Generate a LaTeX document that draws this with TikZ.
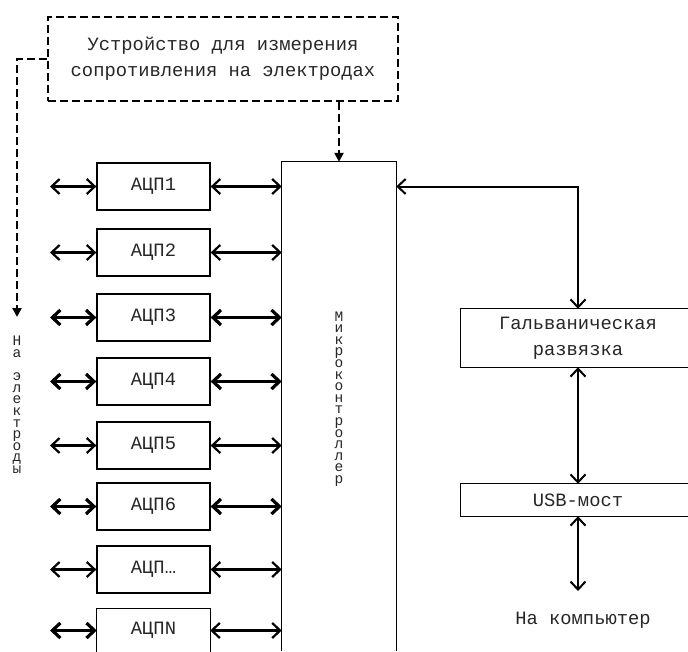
\documentclass[tikz,border=0pt]{standalone}
\usepackage{fontspec}
\newfontfamily\lm{Liberation Mono}
\usetikzlibrary{arrows.meta}
\tikzset{
  lbl/.style={font=\lm\fontsize{18.8}{26}\selectfont, text=black!85},
  adc/.style={draw, line width=1.3pt, minimum width=113pt, minimum height=47pt, inner sep=0pt, lbl},
  blk/.style={draw=none, inner sep=0pt, lbl, align=center},
  bi/.style={{Straight Barb[length=8pt,width=15pt]}-{Straight Barb[length=8pt,width=15pt]}, line width=2.2pt},
  bithick/.style={bi, line width=3.2pt},
  dsh/.style={line width=2.6pt, dash pattern=on 8pt off 4pt},
  vtext/.style={font=\lm\fontsize{14.5}{11.6}\selectfont, align=center, inner sep=0pt, text=black!85},
  frame/.style={line width=1.3pt}
}
\begin{document}
\begin{tikzpicture}[x=1pt,y=-1pt]
\useasboundingbox (0,0) rectangle (688,651);
% device box
\node[dsh, draw, minimum width=350pt, minimum height=84pt, inner sep=0pt, lbl, align=center] (dev) at (223,59)
  {Устройство для измерения\\сопротивления на электродах};
% microcontroller (open bottom)
\node[draw=none, minimum width=114pt, minimum height=489pt, inner sep=0pt] (mc) at (339,406.5) {};
\draw[frame] (mc.south west) |- (mc.north east) -- (mc.south east);
\node[vtext] (mct) at (339,399) {М\\и\\к\\р\\о\\к\\о\\н\\т\\р\\о\\л\\л\\е\\р};
% electrodes label
\node[vtext] (el) at (17,405) {Н\\а\\[11.6pt]э\\л\\е\\к\\т\\р\\о\\д\\ы};
\coordinate (etip) at (17,317);
\draw[dsh, -{Triangle[length=9pt,width=9pt]}] (dev.west) -| (etip);
\draw[dsh, -{Triangle[length=9pt,width=9pt]}] (dev.south -| mc.north) -- (mc.north);
% ADCs
\node[adc] (a1) at (153.5,186.5) {АЦП1};
\node[adc] (a2) at (153.5,252.5) {АЦП2};
\node[adc] (a3) at (153.5,317.5) {АЦП3};
\node[adc] (a4) at (153.5,381.5) {АЦП4};
\node[adc] (a5) at (153.5,445.5) {АЦП5};
\node[adc] (a6) at (153.5,506.5) {АЦП6};
\node[adc] (a7) at (153.5,569.5) {АЦП…};
\node[draw=none, minimum width=113pt, minimum height=43pt, inner sep=0pt, lbl] (a8) at (153.5,630.5) {АЦПN};
\draw[frame] (a8.south west) |- (a8.north east) -- (a8.south east);
\foreach \i/\s in {1/bi,2/bi,3/bithick,4/bithick,5/bi,6/bithick,7/bi,8/bithick}{
  \coordinate (l\i) at (50,0 |- a\i.west);
  \draw[\s] (l\i) -- (a\i.west);
}
\foreach \i/\s in {1/bi,2/bi,3/bithick,4/bithick,5/bi,6/bithick,7/bi,8/bi}{
  \draw[\s] (a\i.east) -- (a\i.east -| mc.west);
}
% galvanic isolation
\coordinate (edge) at (688,0);
\node[blk, minimum width=234pt, minimum height=58pt] (galv) at (578,338) {Гальваническая\\развязка};
\draw[frame] (galv.north -| edge) -- (galv.north west) -- (galv.south west) -- (galv.south -| edge);
\node[blk, minimum width=234pt, minimum height=32pt] (usb) at (578,500) {USB-мост};
\draw[frame] (usb.north -| edge) -- (usb.north west) -- (usb.south west) -- (usb.south -| edge);
\draw[bi, line width=2pt] (mc.east |- a1.east) -| (galv.north);
\draw[bi, line width=2pt] (galv.south) -- (usb.north);
\coordinate (pctip) at (578,591);
\draw[bi, line width=2pt] (usb.south) -- (pctip);
\node[blk] (pc) at (583,620) {На компьютер};
\end{tikzpicture}
\end{document}
